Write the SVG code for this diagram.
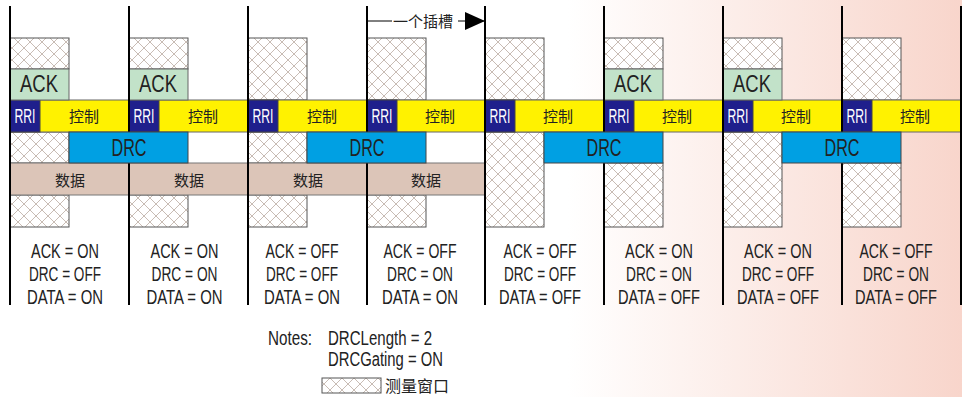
<svg xmlns="http://www.w3.org/2000/svg" width="962" height="397" viewBox="0 0 962 397">
<defs>
<linearGradient id="bg" x1="0" y1="0" x2="962" y2="0" gradientUnits="userSpaceOnUse">
<stop offset="0.59" stop-color="#ffffff"/>
<stop offset="1" stop-color="#f8d5cb"/>
</linearGradient>
<pattern id="hatch" patternUnits="userSpaceOnUse" width="12" height="12">
<rect width="12" height="12" fill="#ffffff"/>
<path d="M0 0L12 12M12 0L0 12" stroke="#c8bcb4" stroke-width="1"/>
</pattern>
<marker id="ah" markerWidth="20" markerHeight="18" refX="20" refY="9" orient="auto" markerUnits="userSpaceOnUse">
<path d="M0 0L20 9L0 18Z" fill="#000"/>
</marker>
</defs>
<style>
.h{fill:url(#hatch);stroke:#555;stroke-width:1}
.ack{fill:#c2e2c9;stroke:#666;stroke-width:1}
.rri{fill:#1f1f8c;stroke:#444;stroke-width:1}
.ctl{fill:#fff200;stroke:#666;stroke-width:1}
.drc{fill:#00a0e3;stroke:#444;stroke-width:1}
.dat{fill:#dcc5b8;stroke:#777;stroke-width:1}
.vl{stroke:#000;stroke-width:2}
text{font-family:"Liberation Sans","Noto Sans CJK SC",sans-serif;fill:#222}
.big{font-size:24px;text-anchor:middle}
.rt{font-size:20px;text-anchor:middle;fill:#ffffff}
.cn{font-size:15px;text-anchor:middle;font-family:"Noto Sans CJK SC",sans-serif}
.st{font-size:20px;text-anchor:middle}
.nt{font-size:20px}
</style>
<rect x="0" y="0" width="962" height="397" fill="url(#bg)"/>

<g id="hatch-windows">
<rect class="h" x="10" y="38" width="59" height="31"/>
<rect class="h" x="10" y="132" width="59" height="31"/>
<rect class="h" x="10" y="195" width="59" height="32"/>
<rect class="h" x="129" y="38" width="59" height="31"/>
<rect class="h" x="129" y="195" width="59" height="32"/>
<rect class="h" x="248" y="38" width="59" height="62"/>
<rect class="h" x="248" y="132" width="59" height="31"/>
<rect class="h" x="248" y="195" width="59" height="32"/>
<rect class="h" x="367" y="38" width="59" height="62"/>
<rect class="h" x="367" y="195" width="59" height="32"/>
<rect class="h" x="485" y="38" width="59" height="62"/>
<rect class="h" x="485" y="132" width="59" height="95"/>
<rect class="h" x="604" y="38" width="59" height="31"/>
<rect class="h" x="604" y="163" width="59" height="64"/>
<rect class="h" x="723" y="38" width="59" height="31"/>
<rect class="h" x="723" y="132" width="59" height="95"/>
<rect class="h" x="842" y="38" width="59" height="62"/>
<rect class="h" x="842" y="163" width="59" height="64"/>
</g>

<g id="control-row">
<rect class="ctl" x="10" y="100" width="951" height="32"/>
<text class="cn" x="84" y="122">控制</text>
<text class="cn" x="203" y="122">控制</text>
<text class="cn" x="322" y="122">控制</text>
<text class="cn" x="440" y="122">控制</text>
<text class="cn" x="558" y="122">控制</text>
<text class="cn" x="677" y="122">控制</text>
<text class="cn" x="796" y="122">控制</text>
<text class="cn" x="915" y="122">控制</text>
</g>

<g id="rri">
<rect class="rri" x="10" y="100" width="30" height="32"/><text class="rt" x="25" y="123" textLength="21" lengthAdjust="spacingAndGlyphs">RRI</text>
<rect class="rri" x="129" y="100" width="30" height="32"/><text class="rt" x="144" y="123" textLength="21" lengthAdjust="spacingAndGlyphs">RRI</text>
<rect class="rri" x="248" y="100" width="30" height="32"/><text class="rt" x="263" y="123" textLength="21" lengthAdjust="spacingAndGlyphs">RRI</text>
<rect class="rri" x="367" y="100" width="30" height="32"/><text class="rt" x="382" y="123" textLength="21" lengthAdjust="spacingAndGlyphs">RRI</text>
<rect class="rri" x="485" y="100" width="30" height="32"/><text class="rt" x="500" y="123" textLength="21" lengthAdjust="spacingAndGlyphs">RRI</text>
<rect class="rri" x="604" y="100" width="30" height="32"/><text class="rt" x="619" y="123" textLength="21" lengthAdjust="spacingAndGlyphs">RRI</text>
<rect class="rri" x="723" y="100" width="30" height="32"/><text class="rt" x="738" y="123" textLength="21" lengthAdjust="spacingAndGlyphs">RRI</text>
<rect class="rri" x="842" y="100" width="30" height="32"/><text class="rt" x="857" y="123" textLength="21" lengthAdjust="spacingAndGlyphs">RRI</text>
</g>

<g id="ack">
<rect class="ack" x="10" y="69" width="59" height="31"/><text class="big" x="39" y="92" textLength="38" lengthAdjust="spacingAndGlyphs">ACK</text>
<rect class="ack" x="129" y="69" width="59" height="31"/><text class="big" x="158" y="92" textLength="38" lengthAdjust="spacingAndGlyphs">ACK</text>
<rect class="ack" x="604" y="69" width="59" height="31"/><text class="big" x="633" y="92" textLength="38" lengthAdjust="spacingAndGlyphs">ACK</text>
<rect class="ack" x="723" y="69" width="59" height="31"/><text class="big" x="752" y="92" textLength="38" lengthAdjust="spacingAndGlyphs">ACK</text>
</g>

<g id="data">
<rect class="dat" x="10" y="163" width="119" height="32"/><text class="cn" x="70" y="186">数据</text>
<rect class="dat" x="129" y="163" width="119" height="32"/><text class="cn" x="189" y="186">数据</text>
<rect class="dat" x="248" y="163" width="119" height="32"/><text class="cn" x="308" y="186">数据</text>
<rect class="dat" x="367" y="163" width="118" height="32"/><text class="cn" x="426" y="186">数据</text>
</g>

<g id="connectors">
<line class="vl" x1="10" y1="6" x2="10" y2="305"/>
<line class="vl" x1="129" y1="6" x2="129" y2="305"/>
<line class="vl" x1="248" y1="6" x2="248" y2="305"/>
<line class="vl" x1="367" y1="6" x2="367" y2="305"/>
<line class="vl" x1="485" y1="6" x2="485" y2="305"/>
<line class="vl" x1="604" y1="6" x2="604" y2="305"/>
<line class="vl" x1="723" y1="6" x2="723" y2="305"/>
<line class="vl" x1="842" y1="6" x2="842" y2="305"/>
<line class="vl" x1="961" y1="6" x2="961" y2="305"/>
<line x1="367" y1="21" x2="392" y2="21" stroke="#000" stroke-width="1"/>
<line x1="458" y1="21" x2="485" y2="21" stroke="#000" stroke-width="1" marker-end="url(#ah)"/>
</g>

<g id="drc">
<rect class="drc" x="69" y="132" width="119" height="31"/><text class="big" x="129" y="156" textLength="35" lengthAdjust="spacingAndGlyphs">DRC</text>
<rect class="drc" x="307" y="132" width="119" height="31"/><text class="big" x="367" y="156" textLength="35" lengthAdjust="spacingAndGlyphs">DRC</text>
<rect class="drc" x="544" y="132" width="119" height="31"/><text class="big" x="604" y="156" textLength="35" lengthAdjust="spacingAndGlyphs">DRC</text>
<rect class="drc" x="782" y="132" width="119" height="31"/><text class="big" x="842" y="156" textLength="35" lengthAdjust="spacingAndGlyphs">DRC</text>
</g>

<g id="slot-label">
<text x="393" y="27" style="font-size:15px;font-family:'Noto Sans CJK SC',sans-serif">一个插槽</text>
</g>

<g id="status">
<text class="st" x="65" y="258" textLength="68" lengthAdjust="spacingAndGlyphs">ACK = ON</text>
<text class="st" x="65" y="281" textLength="72" lengthAdjust="spacingAndGlyphs">DRC = OFF</text>
<text class="st" x="65" y="304" textLength="76" lengthAdjust="spacingAndGlyphs">DATA = ON</text>
<text class="st" x="184.5" y="258" textLength="68" lengthAdjust="spacingAndGlyphs">ACK = ON</text>
<text class="st" x="184.5" y="281" textLength="66" lengthAdjust="spacingAndGlyphs">DRC = ON</text>
<text class="st" x="184.5" y="304" textLength="76" lengthAdjust="spacingAndGlyphs">DATA = ON</text>
<text class="st" x="302" y="258" textLength="73" lengthAdjust="spacingAndGlyphs">ACK = OFF</text>
<text class="st" x="302" y="281" textLength="72" lengthAdjust="spacingAndGlyphs">DRC = OFF</text>
<text class="st" x="302" y="304" textLength="76" lengthAdjust="spacingAndGlyphs">DATA = ON</text>
<text class="st" x="420" y="258" textLength="73" lengthAdjust="spacingAndGlyphs">ACK = OFF</text>
<text class="st" x="420" y="281" textLength="66" lengthAdjust="spacingAndGlyphs">DRC = ON</text>
<text class="st" x="420" y="304" textLength="76" lengthAdjust="spacingAndGlyphs">DATA = ON</text>
<text class="st" x="540" y="258" textLength="73" lengthAdjust="spacingAndGlyphs">ACK = OFF</text>
<text class="st" x="540" y="281" textLength="72" lengthAdjust="spacingAndGlyphs">DRC = OFF</text>
<text class="st" x="540" y="304" textLength="82" lengthAdjust="spacingAndGlyphs">DATA = OFF</text>
<text class="st" x="659" y="258" textLength="68" lengthAdjust="spacingAndGlyphs">ACK = ON</text>
<text class="st" x="659" y="281" textLength="66" lengthAdjust="spacingAndGlyphs">DRC = ON</text>
<text class="st" x="659" y="304" textLength="82" lengthAdjust="spacingAndGlyphs">DATA = OFF</text>
<text class="st" x="778" y="258" textLength="68" lengthAdjust="spacingAndGlyphs">ACK = ON</text>
<text class="st" x="778" y="281" textLength="72" lengthAdjust="spacingAndGlyphs">DRC = OFF</text>
<text class="st" x="778" y="304" textLength="82" lengthAdjust="spacingAndGlyphs">DATA = OFF</text>
<text class="st" x="896" y="258" textLength="73" lengthAdjust="spacingAndGlyphs">ACK = OFF</text>
<text class="st" x="896" y="281" textLength="66" lengthAdjust="spacingAndGlyphs">DRC = ON</text>
<text class="st" x="896" y="304" textLength="82" lengthAdjust="spacingAndGlyphs">DATA = OFF</text>
</g>

<g id="notes">
<text class="nt" x="268" y="345" textLength="44" lengthAdjust="spacingAndGlyphs">Notes:</text>
<text class="nt" x="328" y="345" textLength="104" lengthAdjust="spacingAndGlyphs">DRCLength = 2</text>
<text class="nt" x="328" y="366" textLength="115" lengthAdjust="spacingAndGlyphs">DRCGating = ON</text>
<rect class="h" x="322" y="378" width="59" height="15"/>
<text x="385" y="392" style="font-size:16px;font-family:'Noto Sans CJK SC',sans-serif">测量窗口</text>
</g>
</svg>
